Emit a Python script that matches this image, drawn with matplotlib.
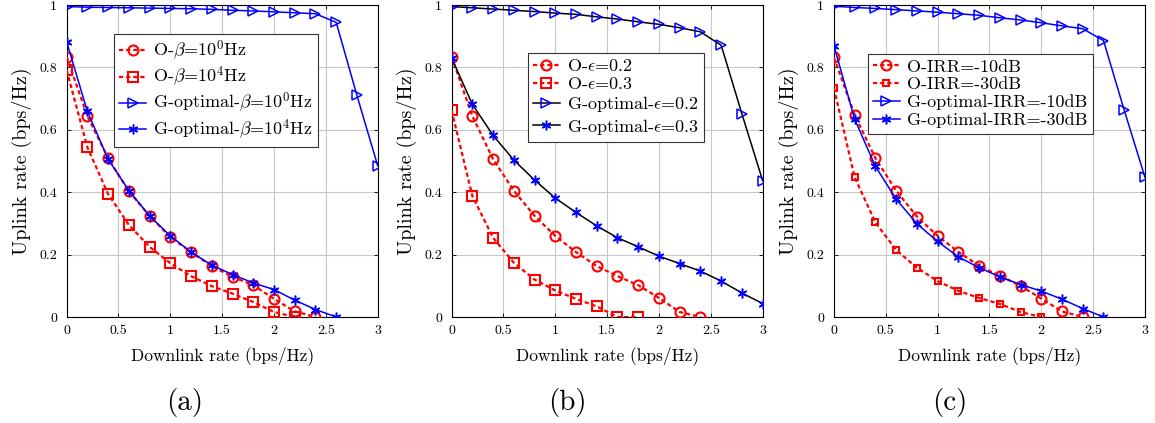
import numpy as np
import matplotlib
matplotlib.use("Agg")
import matplotlib.pyplot as plt

plt.rcParams['font.family'] = 'cmr10'
plt.rcParams['mathtext.fontset'] = 'cm'
plt.rcParams['axes.formatter.use_mathtext'] = True
plt.rcParams['axes.unicode_minus'] = False

# downlink rate grid (bps/Hz)
x = [0, 0.2, 0.4, 0.6, 0.8, 1.0, 1.2, 1.4, 1.6, 1.8, 2.0, 2.2, 2.4, 2.6, 2.8, 3.0]

# (a) phase noise beta
a_o_b0 = [0.834, 0.644, 0.509, 0.403, 0.324, 0.256, 0.208, 0.163, 0.129, 0.102, 0.058, 0.018, 0.0]
a_o_b4 = [0.791, 0.544, 0.394, 0.295, 0.225, 0.172, 0.131, 0.099, 0.075, 0.048, 0.016, 0.0]
a_g_b0 = [0.995, 0.993, 0.992, 0.991, 0.990, 0.989, 0.988, 0.986, 0.983, 0.981, 0.978, 0.975,
          0.972, 0.944, 0.710, 0.485]
a_g_b4 = [0.882, 0.659, 0.506, 0.405, 0.324, 0.260, 0.208, 0.166, 0.136, 0.109, 0.088, 0.054,
          0.024, 0.0]

# (b) nonlinearity epsilon
b_o_e2 = [0.834, 0.644, 0.506, 0.405, 0.324, 0.260, 0.208, 0.163, 0.131, 0.102, 0.061, 0.016, 0.0]
b_o_e3 = [0.662, 0.388, 0.254, 0.174, 0.120, 0.085, 0.058, 0.034, 0.0, 0.0]
b_g_e2 = [0.995, 0.991, 0.987, 0.983, 0.979, 0.974, 0.970, 0.962, 0.955, 0.946, 0.938, 0.927,
          0.914, 0.871, 0.651, 0.437]
b_g_e3 = [0.830, 0.682, 0.582, 0.503, 0.439, 0.381, 0.335, 0.292, 0.254, 0.225, 0.195, 0.171,
          0.147, 0.115, 0.077, 0.043]

# (c) IQ imbalance IRR
c_o_10 = [0.832, 0.648, 0.509, 0.405, 0.322, 0.260, 0.209, 0.164, 0.132, 0.100, 0.059, 0.018, 0.0]
c_o_30 = [0.734, 0.448, 0.303, 0.215, 0.158, 0.115, 0.084, 0.061, 0.042, 0.016, 0.0]
c_g_10 = [0.996, 0.992, 0.989, 0.985, 0.981, 0.977, 0.972, 0.967, 0.959, 0.952, 0.943, 0.933,
          0.924, 0.886, 0.663, 0.448]
c_g_30 = [0.870, 0.634, 0.483, 0.378, 0.299, 0.242, 0.193, 0.158, 0.129, 0.104, 0.083, 0.057,
          0.027, 0.0]

RED = '#ff0000'
BLUE = '#0000ff'
DASH = (0, (1.9, 1.3))
STAR = (6, 2, 0)

fig = plt.figure(figsize=(11.55, 4.23), dpi=100)
lefts = [0.0577, 0.391, 0.722]
axes = [fig.add_axes([l, 0.2506, 0.2693, 0.7376]) for l in lefts]


def o_line(ax, y, marker, label, ms):
    ax.plot(x[:len(y)], y, linestyle=DASH, color=RED, lw=1.6, marker=marker, ms=ms,
            mfc='none', mec=RED, mew=1.5, label=label, zorder=3)


def g_line(ax, y, marker, label, lc, ms):
    ax.plot(x[:len(y)], y, linestyle='-', color=lc, lw=1.1, marker=marker, ms=ms,
            mfc='none', mec=BLUE, mew=1.1, label=label, zorder=4)


ax = axes[0]
o_line(ax, a_o_b0, 'o', r'O-$\beta$=10$^0$Hz', 7.2)
o_line(ax, a_o_b4, 's', r'O-$\beta$=10$^4$Hz', 6.5)
g_line(ax, a_g_b0, '>', r'G-optimal-$\beta$=10$^0$Hz', BLUE, 6.5)
g_line(ax, a_g_b4, STAR, r'G-optimal-$\beta$=10$^4$Hz', BLUE, 7)

ax = axes[1]
o_line(ax, b_o_e2, 'o', r'O-$\epsilon$=0.2', 7.2)
o_line(ax, b_o_e3, 's', r'O-$\epsilon$=0.3', 6.5)
g_line(ax, b_g_e2, '>', r'G-optimal-$\epsilon$=0.2', 'black', 6.5)
g_line(ax, b_g_e3, STAR, r'G-optimal-$\epsilon$=0.3', 'black', 7)

ax = axes[2]
o_line(ax, c_o_10, 'o', 'O-IRR=-10dB', 7.2)
o_line(ax, c_o_30, 's', 'O-IRR=-30dB', 4.2)
g_line(ax, c_g_10, '>', 'G-optimal-IRR=-10dB', BLUE, 6.5)
g_line(ax, c_g_30, STAR, 'G-optimal-IRR=-30dB', BLUE, 7)

legend_pos = [(0.152, 0.907), (0.245, 0.846), (0.109, 0.843)]
tag_x = [185 / 1155, 567 / 1155, 950 / 1155]
for ax, pos, tag, tx in zip(axes, legend_pos, ['(a)', '(b)', '(c)'], tag_x):
    ax.set_xlim(0, 3)
    ax.set_ylim(0, 1)
    ax.set_xticks([0, 0.5, 1, 1.5, 2, 2.5, 3])
    ax.set_xticklabels(['0', '0.5', '1', '1.5', '2', '2.5', '3'])
    ax.set_yticks([0, 0.2, 0.4, 0.6, 0.8, 1])
    ax.set_yticklabels(['0', '0.2', '0.4', '0.6', '0.8', '1'])
    ax.grid(True, color='#c8c8c8', lw=0.8)
    ax.set_axisbelow(True)
    ax.tick_params(direction='in', top=True, right=True, length=3, width=0.6,
                   labelsize=10, colors='black')
    ax.tick_params(axis='y', pad=7)
    ax.tick_params(axis='x', pad=6)
    for s in ax.spines.values():
        s.set_linewidth(0.8)
    ax.set_xlabel('Downlink rate (bps/Hz)', fontsize=12.5, labelpad=6)
    ax.set_ylabel('Uplink rate (bps/Hz)', fontsize=14.5, labelpad=5)
    leg = ax.legend(loc='upper left', bbox_to_anchor=pos, fontsize=13, frameon=True,
                    fancybox=False, framealpha=1, edgecolor='#333333', handlelength=1.5,
                    handletextpad=0.4, labelspacing=0.12, borderpad=0.28, borderaxespad=0)
    leg.get_frame().set_linewidth(0.8)
    leg.set_zorder(10)
    fig.text(tx, 0.048, tag, ha='center', va='center', fontsize=21)

fig.savefig('out.png', dpi=100)
